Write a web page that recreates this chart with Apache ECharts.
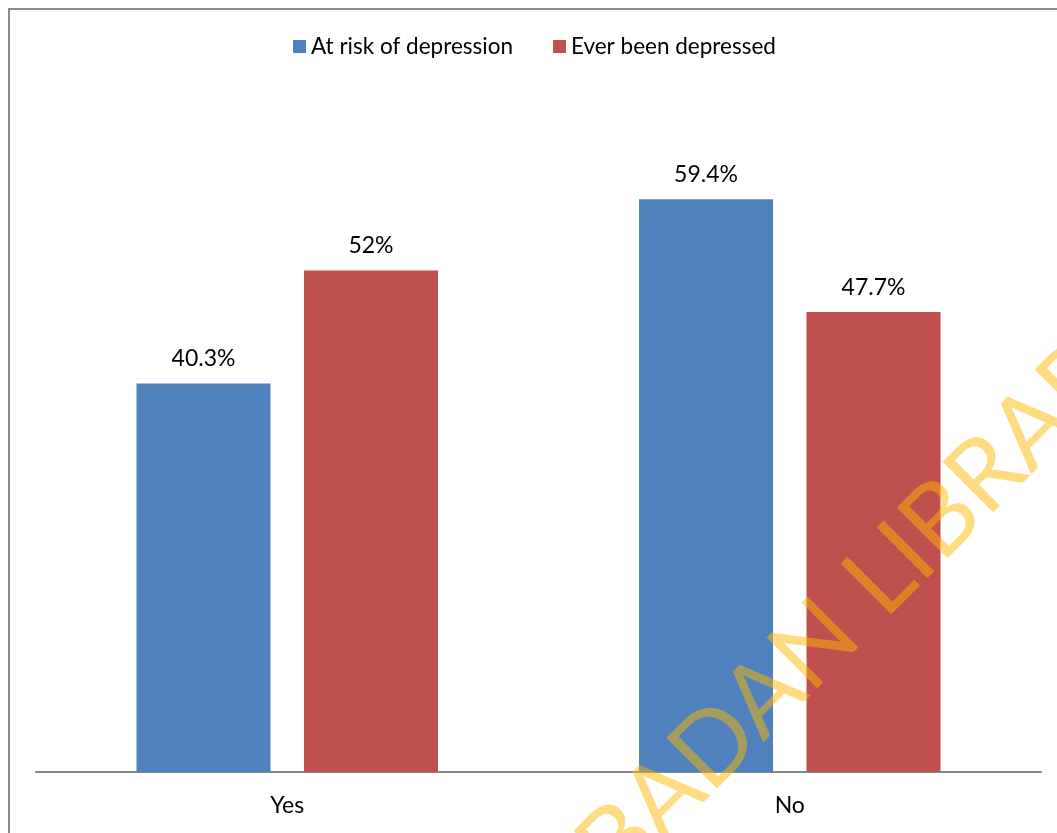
<!DOCTYPE html>
<html>
<head>
<meta charset="utf-8">
<script src="https://cdn.jsdelivr.net/npm/echarts@6/dist/echarts.min.js"></script>
<style>
  html, body { margin: 0; padding: 0; background: #ffffff; }
  #chart { width: 1057px; height: 833px; }
</style>
</head>
<body>
<div id="chart"></div>
<script>
// Depression indicators by group (percent)
const categories = ['Yes', 'No'];
const seriesNames = ['At risk of depression', 'Ever been depressed'];
const atRiskOfDepression = [40.3, 59.4];
const everBeenDepressed = [52, 47.7];
const seriesColors = ['#4F81BD', '#C0504D'];

const FONT = 'Lato, "Liberation Sans", sans-serif';

const chart = echarts.init(document.getElementById('chart'), null, { renderer: 'canvas' });

const valueLabel = {
  show: true,
  position: 'top',
  distance: 13,
  formatter: '{c}%',
  fontFamily: FONT,
  fontSize: 23,
  color: '#000000'
};

// translucent diagonal watermark text
const watermarkStyle = {
  textVerticalAlign: 'middle',
  fontFamily: FONT,
  fontSize: 100,
  fill: 'rgba(255,184,0,0.49)'
};

chart.setOption({
  animation: false,
  backgroundColor: '#ffffff',
  textStyle: { fontFamily: FONT },
  legend: {
    data: seriesNames,
    left: 288,
    top: 30,
    itemWidth: 13,
    itemHeight: 13,
    itemGap: 40,
    icon: 'rect',
    textStyle: { fontFamily: FONT, fontSize: 22.5, color: '#000000' }
  },
  grid: { left: 36, right: 16, top: 97, bottom: 61, containLabel: false },
  xAxis: {
    type: 'category',
    data: categories,
    axisLine: { show: true, lineStyle: { color: '#868686', width: 2 } },
    axisTick: { show: false },
    axisLabel: { fontFamily: FONT, fontSize: 23, color: '#000000', margin: 22 },
    splitLine: { show: false }
  },
  yAxis: {
    type: 'value',
    min: 0,
    max: 70,
    interval: 10,
    show: false,
    splitLine: { show: false }
  },
  series: [
    {
      name: seriesNames[0],
      type: 'bar',
      data: atRiskOfDepression,
      barWidth: 134,
      barGap: '25%',
      itemStyle: { color: seriesColors[0] },
      label: valueLabel
    },
    {
      name: seriesNames[1],
      type: 'bar',
      data: everBeenDepressed,
      barWidth: 134,
      barGap: '25%',
      itemStyle: { color: seriesColors[1] },
      label: valueLabel
    }
  ],
  graphic: [
    // frame around the chart area
    {
      type: 'rect',
      z: 50,
      shape: { x: 9, y: 9, width: 1200, height: 1000 },
      style: { fill: 'none', stroke: '#8c8c8c', lineWidth: 2 }
    },
    {
      type: 'text',
      z: 100,
      x: 862,
      y: 598,
      rotation: Math.PI / 4,
      style: Object.assign({ text: 'LIBRARY', textAlign: 'left' }, watermarkStyle)
    },
    {
      type: 'text',
      z: 100,
      x: 842,
      y: 618,
      rotation: Math.PI / 4,
      style: Object.assign({ text: 'IBADAN', textAlign: 'right' }, watermarkStyle)
    }
  ]
});
</script>
</body>
</html>
